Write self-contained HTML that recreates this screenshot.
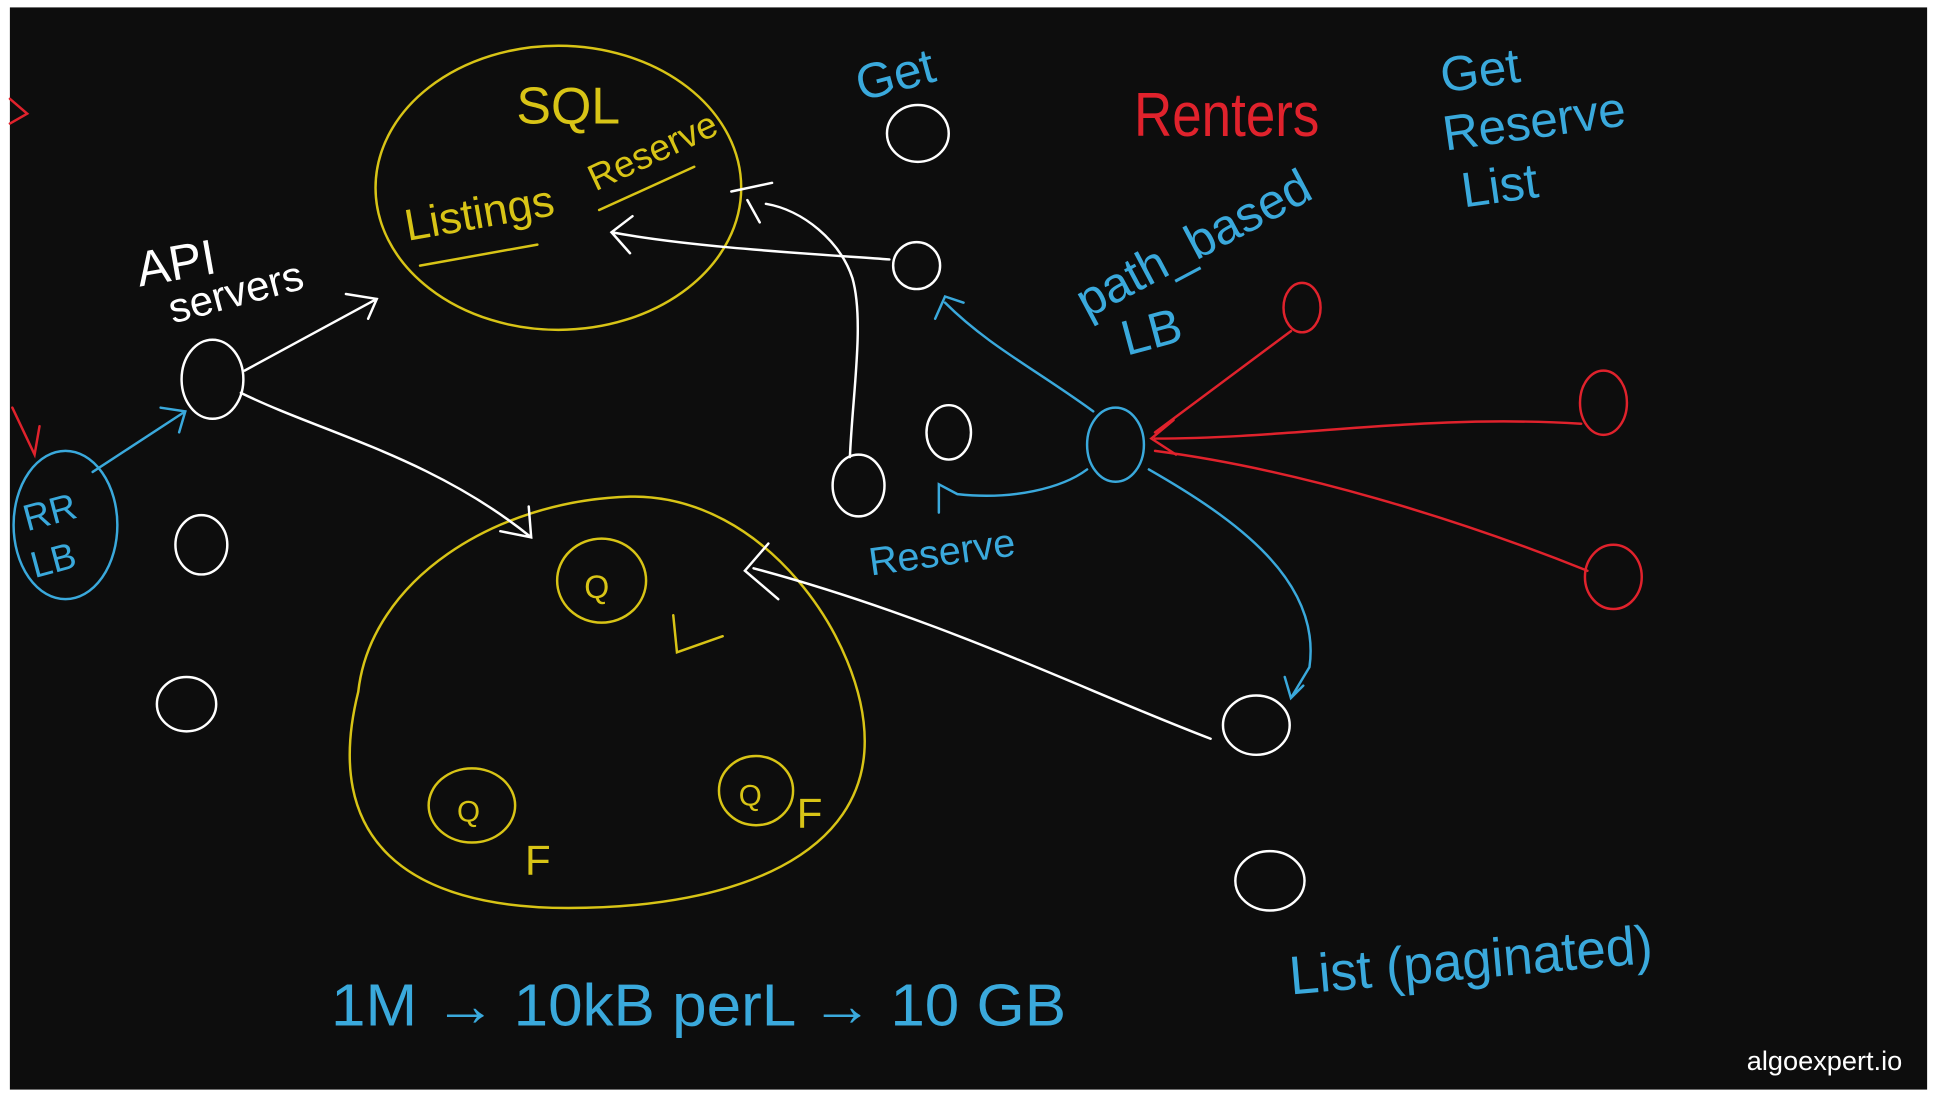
<!DOCTYPE html>
<html><head><meta charset="utf-8"><style>
html,body{margin:0;padding:0;background:#fff;width:1937px;height:1097px;overflow:hidden}
svg{display:block}
text{font-family:"Liberation Sans",sans-serif}
</style></head><body>
<svg width="1937" height="1097" viewBox="0 0 1568 888" preserveAspectRatio="none">
<rect x="0" y="0" width="1568" height="888" fill="#fff"/>
<rect x="8" y="6" width="1552" height="876" fill="#0d0d0d"/>
<g fill="none" stroke-width="2" stroke-linecap="round">
<g stroke="#d8c416">
<ellipse cx="452" cy="152" rx="148" ry="115"/>
<path d="M340 215 L435 198"/>
<path d="M485 170 L562 135"/>
<path d="M290 560 C300 470 400 405 510 402 C620 400 700 520 700 600 C700 690 600 735 460 735 C330 735 260 680 290 560Z"/>
<ellipse cx="487" cy="470" rx="36" ry="34"/>
<ellipse cx="382" cy="652" rx="35" ry="30"/>
<ellipse cx="612" cy="640" rx="30" ry="28"/>
<path d="M545 498 L548 528 L585 515"/>
</g>
<g stroke="#fff">
<ellipse cx="172" cy="307" rx="25" ry="32"/>
<ellipse cx="163" cy="441" rx="21" ry="24"/>
<ellipse cx="151" cy="570" rx="24" ry="22"/>
<ellipse cx="743" cy="108" rx="25" ry="23"/>
<ellipse cx="742" cy="215" rx="19" ry="19"/>
<ellipse cx="768" cy="350" rx="18" ry="22"/>
<ellipse cx="695" cy="393" rx="21" ry="25"/>
<ellipse cx="1017" cy="587" rx="27" ry="24"/>
<ellipse cx="1028" cy="713" rx="28" ry="24"/>
<path d="M198 300 L305 242 M280 238 L305 242 L298 258"/>
<path d="M195 318 C260 350 350 370 430 435 M405 430 L430 435 L428 410"/>
<path d="M720 210 C650 205 560 200 495 188 M512 175 L495 188 L510 205"/>
<path d="M688 370 C690 320 700 260 690 225 C680 195 650 170 620 165 M592 155 L625 148 M605 162 L615 180"/>
<path d="M980 598 C880 560 760 500 610 460 M622 440 L603 462 L630 485"/>
</g>
<g stroke="#3aa9dc">
<ellipse cx="53" cy="425" rx="42" ry="60"/>
<path d="M75 382 L150 333 M130 330 L150 333 L145 350"/>
<ellipse cx="903" cy="360" rx="23" ry="30"/>
<path d="M885 333 C840 300 800 280 765 245 M757 258 L765 240 L780 245"/>
<path d="M880 380 C860 395 820 405 775 400 L760 392 L760 415"/>
<path d="M930 380 C1000 420 1070 470 1060 540 L1045 565 M1040 548 L1045 565 L1055 555"/>
</g>
<g stroke="#e0222c">
<ellipse cx="1054" cy="249" rx="15" ry="20"/>
<ellipse cx="1298" cy="326" rx="19" ry="26"/>
<ellipse cx="1306" cy="467" rx="23" ry="26"/>
<path d="M1045 268 L935 350"/>
<path d="M1280 343 C1150 335 1050 355 935 355 M950 340 L932 355 L952 368"/>
<path d="M1285 462 C1180 420 1050 380 935 365"/>
<path d="M10 330 L28 368 L32 345"/>
<path d="M8 80 L22 92 L8 100"/>
</g>
</g>
<g font-size="40" fill="#d8c416">
<text x="418" y="100" font-size="42">SQL</text>
<text x="330" y="195" transform="rotate(-10 330 195)" font-size="36">Listings</text>
<text x="482" y="155" transform="rotate(-25 482 155)" font-size="30">Reserve</text>
<text x="473" y="484" font-size="26">Q</text>
<text x="370" y="665" font-size="24">Q</text>
<text x="598" y="652" font-size="24">Q</text>
<text x="425" y="708" font-size="34">F</text>
<text x="645" y="670" font-size="34">F</text>
</g>
<g fill="#fff">
<text x="113" y="232" font-size="40" transform="rotate(-10 113 232)">API</text>
<text x="140" y="262" font-size="34" transform="rotate(-15 140 262)">servers</text>
<text x="1414" y="866" font-size="22">algoexpert.io</text>
</g>
<g fill="#3aa9dc">
<text x="22" y="430" font-size="30" transform="rotate(-15 22 430)">RR</text>
<text x="28" y="468" font-size="30" transform="rotate(-15 28 468)">LB</text>
<text x="697" y="82" font-size="40" transform="rotate(-15 697 82)">Get</text>
<text x="1168" y="75" font-size="40" transform="rotate(-8 1168 75)">Get</text>
<text x="1170" y="122" font-size="40" transform="rotate(-8 1170 122)">Reserve</text>
<text x="1185" y="168" font-size="40" transform="rotate(-8 1185 168)">List</text>
<text x="880" y="258" font-size="40" transform="rotate(-28 880 258)">path_based</text>
<text x="912" y="288" font-size="40" transform="rotate(-15 912 288)">LB</text>
<text x="705" y="466" font-size="32" transform="rotate(-8 705 466)">Reserve</text>
<text x="268" y="830" font-size="48" textLength="595" lengthAdjust="spacingAndGlyphs">1M → 10kB perL → 10 GB</text>
<text x="1045" y="805" font-size="44" transform="rotate(-5 1045 805)" textLength="295" lengthAdjust="spacingAndGlyphs">List (paginated)</text>
</g>
<text x="918" y="110" font-size="50" fill="#e0222c" textLength="150" lengthAdjust="spacingAndGlyphs">Renters</text>
</svg>
</body></html>
